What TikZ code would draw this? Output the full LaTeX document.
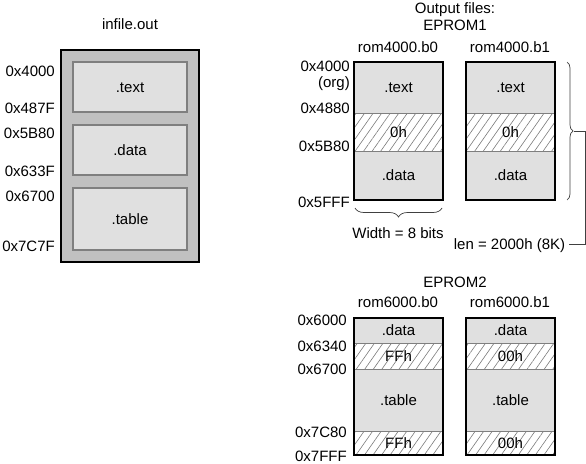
\documentclass[tikz,border=0pt]{standalone}
\usepackage{fontspec}
\setmainfont{Liberation Sans}
\usetikzlibrary{patterns.meta,decorations.pathreplacing}
\definecolor{outergray}{HTML}{C0C0C0}
\definecolor{secgray}{HTML}{E0E0E0}
\definecolor{divgray}{HTML}{7F7F7F}
\definecolor{hatchgray}{HTML}{7A7A7A}
\definecolor{bracegray}{HTML}{404040}
\begin{document}
\begin{tikzpicture}[x=1pt,y=-1pt,
  every node/.style={font=\fontsize{15}{18}\selectfont, inner sep=0pt, text height=10.7pt, text depth=0pt},
  lbl/.style={anchor=east},
  outerbox/.style={draw=black, line width=2pt, minimum width=89pt},
  sect/.style={fill=secgray, draw=divgray, line width=0.9pt, minimum width=89pt},
  hatchsec/.style={draw=divgray, line width=0.9pt, minimum width=89pt,
    pattern={Lines[angle=55,distance=7pt,line width=0.6pt]}, pattern color=hatchgray},
  lsect/.style={fill=secgray, draw=divgray, line width=1.2pt, minimum width=114pt},
  bracestyle/.style={draw=bracegray, line width=0.7pt, decorate},
  conn/.style={draw=bracegray, line width=0.7pt},
]
\useasboundingbox (0,0) rectangle (586,463);

% ---------- left: infile.out ----------
\node (infile) at (130,24) {infile.out};
\node[draw=black, line width=2pt, fill=outergray, minimum width=138pt, minimum height=212pt] (lout) at (130,156) {};
\node[lsect, minimum height=50pt] (ltext) at (130,87) {.text};
\node[lsect, minimum height=50pt] (ldata) at (130,150) {.data};
\node[lsect, minimum height=62pt] (ltable) at (130,219) {.table};
\node[lbl] (la1) at (55,71) {0x4000};
\node[lbl] (la2) at (55,108) {0x487F};
\node[lbl] (la3) at (55,133) {0x5B80};
\node[lbl] (la4) at (55,171) {0x633F};
\node[lbl] (la5) at (55,196) {0x6700};
\node[lbl] (la6) at (55,246) {0x7C7F};

% ---------- right top: EPROM1 ----------
\node (outfiles) at (455,8) {Output files:};
\node (ep1) at (455,25) {EPROM1};
\node (r40b0) at (398,47) {rom4000.b0};
\node (r40b1) at (510,47) {rom4000.b1};

\node[sect, minimum height=51pt] (t0) at (398.5,87.5) {.text};
\node[hatchsec, minimum height=38pt] (h0) at (398.5,132) {0h};
\node[sect, minimum height=49pt] (d0) at (398.5,175.5) {.data};
\node[outerbox, minimum height=138pt] (b40b0) at (398.5,131) {};

\node[sect, minimum height=51pt] (t1) at (510.5,87.5) {.text};
\node[hatchsec, minimum height=38pt] (h1) at (510.5,132) {0h};
\node[sect, minimum height=49pt] (d1) at (510.5,175.5) {.data};
\node[outerbox, minimum height=138pt] (b40b1) at (510.5,131) {};

\node[lbl] (ra1) at (350,66) {0x4000};
\node[lbl] (ra1b) at (350,82) {(org)};
\node[lbl] (ra2) at (350,108) {0x4880};
\node[lbl] (ra3) at (350,146) {0x5B80};
\node[lbl] (ra4) at (350,202) {0x5FFF};

\draw[bracestyle, decoration={brace, amplitude=9pt, mirror}] (355,208) -- (442,208);
\node (width) at (398,233) {Width = 8 bits};

\draw[bracestyle, decoration={brace, amplitude=6pt}] (567,62) -- (567,200);
\coordinate (rtip) at (574,131);
\node (len) at (509.5,244) {len = 2000h (8K)};
\draw[conn] (rtip) -- (585,131) |- ([xshift=4pt]len.east);

% ---------- right bottom: EPROM2 ----------
\node (ep2) at (455,282) {EPROM2};
\node (r60b0) at (398,302) {rom6000.b0};
\node (r60b1) at (510,302) {rom6000.b1};

\node[sect, minimum height=25pt] (e0) at (398.5,330.5) {.data};
\node[hatchsec, minimum height=26pt] (f0) at (398.5,356) {FFh};
\node[sect, minimum height=62pt] (g0) at (398.5,400) {.table};
\node[hatchsec, minimum height=24pt] (k0) at (398.5,443) {FFh};
\node[outerbox, minimum height=137pt] (b60b0) at (398.5,386.5) {};

\node[sect, minimum height=25pt] (e1) at (510.5,330.5) {.data};
\node[hatchsec, minimum height=26pt] (f1) at (510.5,356) {00h};
\node[sect, minimum height=62pt] (g1) at (510.5,400) {.table};
\node[hatchsec, minimum height=24pt] (k1) at (510.5,443) {00h};
\node[outerbox, minimum height=137pt] (b60b1) at (510.5,386.5) {};

\node[lbl] (sa1) at (347,320) {0x6000};
\node[lbl] (sa2) at (347,346) {0x6340};
\node[lbl] (sa3) at (347,369) {0x6700};
\node[lbl] (sa4) at (347,432) {0x7C80};
\node[lbl] (sa5) at (347,456) {0x7FFF};
\end{tikzpicture}
\end{document}
